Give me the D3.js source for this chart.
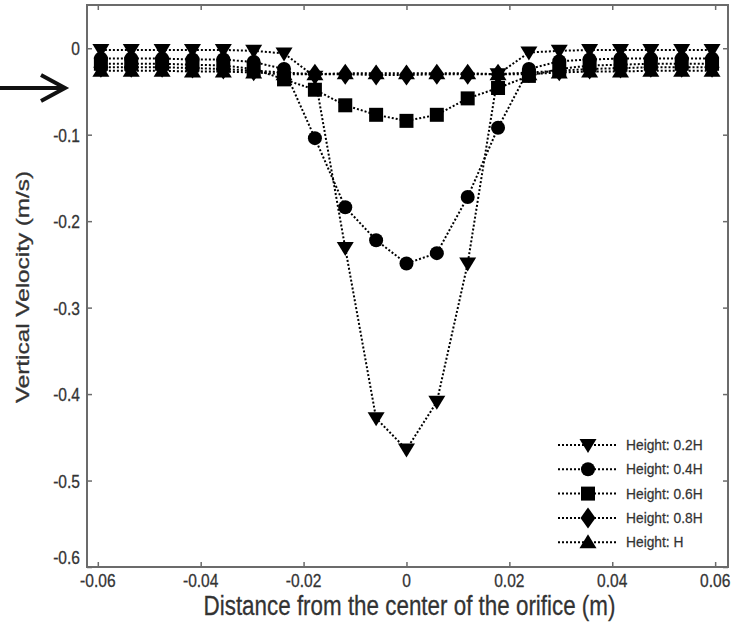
<!DOCTYPE html>
<html>
<head>
<meta charset="utf-8">
<script src="https://cdn.jsdelivr.net/npm/d3@7"></script>
<style>
  body { margin: 0; background: #fff; }
  text { font-family: "Liberation Sans", Arial, sans-serif; }
</style>
</head>
<body>
<div id="chart"></div>
<script>
// distance from the orifice centre (m)
const xPos = [-0.0594, -0.0535, -0.0475, -0.0416, -0.0356, -0.0297, -0.0238, -0.0178, -0.0119, -0.0059,
  0, 0.0059, 0.0119, 0.0178, 0.0238, 0.0297, 0.0356, 0.0416, 0.0475, 0.0535, 0.0594];

// vertical velocity (m/s) at each height
const h02 = [-0.002, -0.002, -0.002, -0.002, -0.002, -0.003, -0.006, -0.033, -0.231, -0.428,
  -0.464, -0.409, -0.249, -0.030, -0.005, -0.003, -0.002, -0.002, -0.002, -0.002, -0.002];
const h04 = [-0.012, -0.012, -0.012, -0.013, -0.013, -0.016, -0.024, -0.104, -0.184, -0.222,
  -0.249, -0.237, -0.172, -0.092, -0.024, -0.015, -0.013, -0.012, -0.012, -0.012, -0.012];
const h06 = [-0.018, -0.018, -0.018, -0.019, -0.020, -0.024, -0.036, -0.048, -0.066, -0.077,
  -0.084, -0.077, -0.058, -0.046, -0.032, -0.024, -0.020, -0.019, -0.018, -0.018, -0.018];
const h08 = [-0.022, -0.022, -0.022, -0.023, -0.024, -0.026, -0.028, -0.030, -0.030, -0.031,
  -0.031, -0.030, -0.030, -0.030, -0.028, -0.026, -0.024, -0.023, -0.022, -0.022, -0.022];
const hH = [-0.026, -0.026, -0.026, -0.027, -0.027, -0.028, -0.030, -0.030, -0.029, -0.029,
  -0.029, -0.029, -0.029, -0.030, -0.030, -0.028, -0.027, -0.027, -0.026, -0.026, -0.026];

const seriesNames = ['Height: 0.2H', 'Height: 0.4H', 'Height: 0.6H', 'Height: 0.8H', 'Height: H'];
const xTicks = [-0.06, -0.04, -0.02, 0, 0.02, 0.04, 0.06];
const xTickLabels = ['-0.06', '-0.04', '-0.02', '0', '0.02', '0.04', '0.06'];
const yTicks = [0, -0.1, -0.2, -0.3, -0.4, -0.5, -0.6];
const yTickLabels = ['0', '-0.1', '-0.2', '-0.3', '-0.4', '-0.5', '-0.6'];

const w = 739, h = 627;
const mLeft = 87, mRight = 728, mTop = 5, mBottom = 567;
const axisCol = '#6b6b6b', textCol = '#333';

// custom marker shapes
const triDown = { draw(c) { c.moveTo(-8.5, -6); c.lineTo(8.5, -6); c.lineTo(0, 8); c.closePath(); } };
const triUp = { draw(c) { c.moveTo(-8.5, 6); c.lineTo(8.5, 6); c.lineTo(0, -8); c.closePath(); } };
const circ = { draw(c) { c.moveTo(7, 0); c.arc(0, 0, 7, 0, 2 * Math.PI); } };
const sq = { draw(c) { c.rect(-7, -7, 14, 14); } };
const diam = { draw(c) { c.moveTo(0, -10.5); c.lineTo(7.5, 0); c.lineTo(0, 10.5); c.lineTo(-7.5, 0); c.closePath(); } };
const shapes = [triDown, circ, sq, diam, triUp];
const allValues = [h02, h04, h06, h08, hH];

const x = d3.scaleLinear().domain([-0.0621, 0.0625]).range([mLeft, mRight]);
const y = d3.scaleLinear().domain([-0.6, 0.05]).range([mBottom, mTop]);

const svg = d3.select('#chart').append('svg')
  .attr('width', w)
  .attr('height', h);

// ticks on all four sides, pointing inward
svg.append('g').attr('transform', `translate(0,${mBottom})`)
  .call(d3.axisBottom(x).tickValues(xTicks).tickSize(-5).tickFormat(''));
svg.append('g').attr('transform', `translate(0,${mTop})`)
  .call(d3.axisTop(x).tickValues(xTicks).tickSize(-5).tickFormat(''));
svg.append('g').attr('transform', `translate(${mLeft},0)`)
  .call(d3.axisLeft(y).tickValues(yTicks).tickSize(-5).tickFormat(''));
svg.append('g').attr('transform', `translate(${mRight},0)`)
  .call(d3.axisRight(y).tickValues(yTicks).tickSize(-5).tickFormat(''));
svg.selectAll('.domain').remove();
svg.selectAll('.tick line').attr('stroke', axisCol).attr('stroke-width', 1.5);

svg.append('rect')
  .attr('x', mLeft).attr('y', mTop)
  .attr('width', mRight - mLeft).attr('height', mBottom - mTop)
  .attr('fill', 'none')
  .attr('stroke', axisCol)
  .attr('stroke-width', 2);

// tick labels (source image is a bit squashed horizontally)
svg.append('g').selectAll('text')
  .data(xTicks)
  .join('text')
  .attr('transform', d => `translate(${x(d)},${mBottom + 20}) scale(0.82,1)`)
  .attr('text-anchor', 'middle')
  .style('font-size', '19px')
  .style('fill', textCol)
  .style('stroke', textCol)
  .style('stroke-width', 0.3)
  .text((d, i) => xTickLabels[i]);

svg.append('g').selectAll('text')
  .data(yTicks)
  .join('text')
  .attr('transform', d => `translate(${mLeft - 7},${y(d) + (d === -0.6 ? -3 : 7)}) scale(0.82,1)`)
  .attr('text-anchor', 'end')
  .style('font-size', '19px')
  .style('fill', textCol)
  .style('stroke', textCol)
  .style('stroke-width', 0.3)
  .text((d, i) => yTickLabels[i]);

// axis titles
svg.append('text')
  .attr('transform', `translate(${(mLeft + mRight) / 2 + 2},${615}) scale(0.8,1)`)
  .attr('text-anchor', 'middle')
  .style('font-size', '28px')
  .style('fill', textCol)
  .style('stroke', textCol)
  .style('stroke-width', 0.3)
  .text('Distance from the center of the orifice (m)');

svg.append('text')
  .attr('transform', `translate(29,287) rotate(-90) scale(1.35,1)`)
  .attr('text-anchor', 'middle')
  .style('font-size', '18px')
  .style('fill', textCol)
  .style('stroke', textCol)
  .style('stroke-width', 0.3)
  .text('Vertical Velocity (m/s)');

// arrow pointing at the plot
svg.append('path')
  .attr('d', 'M0,88 L64,88 M41,75 L65,88 L41,101')
  .attr('fill', 'none')
  .attr('stroke', '#111')
  .attr('stroke-width', 4);

// dotted lines then markers
const line = d3.line().x((d, i) => x(xPos[i])).y(d => y(d));

svg.append('g').selectAll('path')
  .data(allValues)
  .join('path')
  .attr('d', line)
  .attr('fill', 'none')
  .attr('stroke', '#000')
  .attr('stroke-width', 2)
  .attr('stroke-dasharray', '2,2');

allValues.forEach((vals, s) => {
  svg.append('g').selectAll('path')
    .data(vals)
    .join('path')
    .attr('transform', (d, i) => `translate(${x(xPos[i])},${y(d)})`)
    .attr('d', d3.symbol().type(shapes[s]))
    .attr('fill', '#000');
});

// legend
const legend = svg.append('g')
  .selectAll('g')
  .data(seriesNames)
  .join('g')
  .attr('transform', (d, i) => `translate(0,${445 + i * 24.3})`);

legend.append('line')
  .attr('x1', 558).attr('x2', 617)
  .attr('stroke', '#000')
  .attr('stroke-width', 2)
  .attr('stroke-dasharray', '2,2');

legend.append('path')
  .attr('transform', 'translate(588,0)')
  .attr('d', (d, i) => d3.symbol().type(shapes[i])())
  .attr('fill', '#000');

legend.append('text')
  .attr('transform', 'translate(626,5) scale(0.92,1)')
  .style('font-size', '15px')
  .style('fill', textCol)
  .style('stroke', textCol)
  .style('stroke-width', 0.25)
  .text(d => d);
</script>
</body>
</html>
